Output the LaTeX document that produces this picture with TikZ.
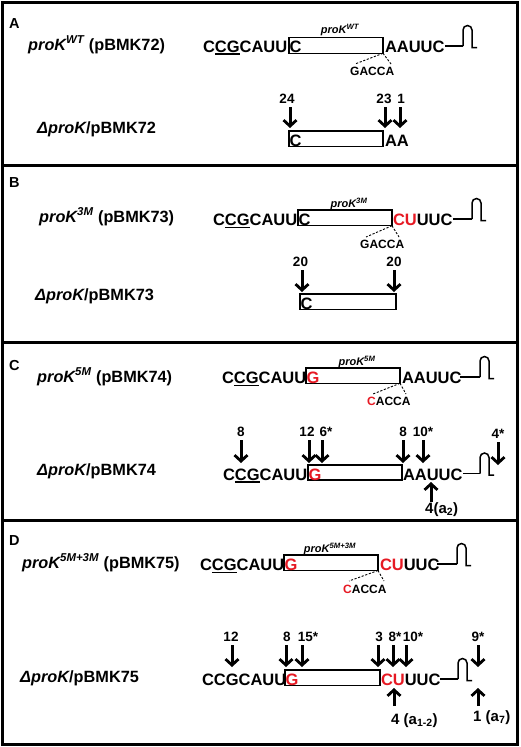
\documentclass[tikz,border=0pt]{standalone}
\usepackage{fontspec}
\setmainfont{Liberation Sans}
\usetikzlibrary{arrows.meta}
\definecolor{mred}{RGB}{230,25,35}
\newcommand\uln[1]{\setbox0\hbox{#1}\rlap{\rule[-2.6pt]{\wd0}{1.2pt}}\box0}
\newcommand\rd[1]{\textcolor{mred}{#1}}
% down arrow: name, arrow x, y start, y tip, label x, label
\newcommand\darr[6]{%
  \coordinate (#1s) at (#2,#3); \coordinate (#1e) at (#2,#4);
  \node[num, anchor=base] (#1n) at (#5,#3-4) {#6};
  \draw[arr] (#1s) -- (#1e);}
% up arrow: name, x, y start (bottom), y tip, label x (west), label baseline, label
\newcommand\uarr[7]{%
  \coordinate (#1s) at (#2,#3); \coordinate (#1e) at (#2,#4);
  \node[albl, anchor=base west] (#1n) at (#5,#6) {#7};
  \draw[arr] (#1s) -- (#1e);}
\begin{document}
\begin{tikzpicture}[x=1pt,y=-1pt,
  seq/.style={font=\fontsize{16.5}{16.5}\selectfont\bfseries, inner sep=0pt, outer sep=0pt},
  lab/.style={font=\fontsize{16.3}{16.3}\selectfont\bfseries, inner sep=0pt},
  plet/.style={font=\fontsize{14.5}{14.5}\selectfont\bfseries, inner sep=0pt},
  num/.style={font=\fontsize{13.5}{13.5}\selectfont\bfseries, inner sep=0pt},
  albl/.style={font=\fontsize{15}{15}\selectfont\bfseries, inner sep=0pt},
  sm/.style={font=\fontsize{11}{11}\selectfont\bfseries\itshape, inner sep=0pt},
  gac/.style={font=\fontsize{12}{12}\selectfont\bfseries, inner sep=0pt},
  boxn/.style={draw, line width=1.5pt, inner sep=0pt, outer sep=0pt, anchor=north west},
  frame/.style={line width=3pt},
  tl/.style={line width=1.5pt},
  dsh/.style={line width=0.9pt, dash pattern=on 2.2pt off 1.6pt},
  arr/.style={line width=3pt, -{Straight Barb[length=6pt,width=13pt,line width=2.8pt]}},
  term/.pic={\draw[tl] (0,0) -- (0,-16) arc[start angle=180,end angle=0,radius=4.5pt] -- (9,1.5) -- (14,1.5);}
]
\useasboundingbox (0,0) rectangle (520,747);
% frame and dividers
\draw[frame] (2.5,2) rectangle (517.5,744.5);
\coordinate (d1l) at (2.5,165); \coordinate (d1r) at (517.5,165);
\coordinate (d2l) at (2.5,342); \coordinate (d2r) at (517.5,342);
\coordinate (d3l) at (2.5,520); \coordinate (d3r) at (517.5,520);
\draw[frame] (d1l) -- (d1r);
\draw[frame] (d2l) -- (d2r);
\draw[frame] (d3l) -- (d3r);
% panel letters
\node[plet, anchor=base west] (pA) at (9,28) {A};
\node[plet, anchor=base west] (pB) at (9,187) {B};
\node[plet, anchor=base west] (pC) at (9,370) {C};
\node[plet, anchor=base west] (pD) at (9,545) {D};

% ================= Panel A =================
\node[lab, anchor=base west] (a1lab) at (28,50) {\itshape proK\textsuperscript{WT}\upshape\ (pBMK72)};
\node[sm, anchor=base] (a1sm) at (340,33) {proK\textsuperscript{WT}};
\node[seq, anchor=base west] (a1s) at (203,52) {C\uln{CG}CAUU};
\node[boxn, minimum width=94pt, minimum height=15.6pt] (a1b) at (289,37.7) {};
\node[seq, anchor=base west] (a1c) at (289.5,52) {C};
\node[seq, anchor=base west] (a1t) at (385,52) {AAUUC};
\coordinate (a1l) at (445,46); \coordinate (a1p) at (463,46);
\draw[tl] (a1l) -- (a1p);
\pic at (a1p) {term};
\node[gac, anchor=base west] (a1g) at (350,75) {GACCA};
\coordinate (a1g1) at (355,64); \coordinate (a1g2) at (391,64);
\draw[dsh] (a1b.south east) -- (a1g1);
\draw[dsh] (a1b.south east) -- (a1g2);
% row 2
\node[lab, anchor=base west] (a2lab) at (37,133) {\itshape ΔproK\upshape/pBMK72};
\node[boxn, minimum width=94pt, minimum height=15.5pt] (a2b) at (289,131) {};
\node[seq, anchor=base west] (a2c) at (289.5,146.5) {C};
\node[seq, anchor=base west] (a2t) at (385,146.5) {AA};
\darr{a2x}{290}{107}{128}{287}{24}
\darr{a2y}{385}{107}{128}{384}{23}
\darr{a2z}{400}{107}{128}{401}{1}

% ================= Panel B =================
\node[lab, anchor=base west] (b1lab) at (39,222) {\itshape proK\textsuperscript{3M}\upshape\ (pBMK73)};
\node[sm, anchor=base] (b1sm) at (349,207) {proK\textsuperscript{3M}};
\node[seq, anchor=base west] (b1s) at (213,225.7) {C\uln{CG}CAUU};
\node[boxn, minimum width=94pt, minimum height=15.7pt] (b1b) at (298,210) {};
\node[seq, anchor=base west] (b1c) at (298.5,225.7) {C};
\node[seq, anchor=base west] (b1t) at (393,225.7) {\rd{CU}UUC};
\coordinate (b1l) at (453,219); \coordinate (b1p) at (472,219);
\draw[tl] (b1l) -- (b1p);
\pic at (b1p) {term};
\node[gac, anchor=base west] (b1g) at (360,248) {GACCA};
\coordinate (b1g1) at (366,237); \coordinate (b1g2) at (399,237);
\draw[dsh] (b1b.south east) -- (b1g1);
\draw[dsh] (b1b.south east) -- (b1g2);
% row 2
\node[lab, anchor=base west] (b2lab) at (35,300) {\itshape ΔproK\upshape/pBMK73};
\node[boxn, minimum width=96pt, minimum height=15.3pt] (b2b) at (300,294) {};
\node[seq, anchor=base west] (b2c) at (300.5,309) {C};
\darr{b2x}{302}{270}{292}{300.5}{20}
\darr{b2y}{394}{270}{292}{394}{20}

% ================= Panel C =================
\node[lab, anchor=base west] (c1lab) at (37,382) {\itshape proK\textsuperscript{5M}\upshape\ (pBMK74)};
\node[sm, anchor=base] (c1sm) at (357,365) {proK\textsuperscript{5M}};
\node[seq, anchor=base west] (c1s) at (222,383.3) {C\uln{CG}CAUU};
\node[boxn, minimum width=94pt, minimum height=15.3pt] (c1b) at (306,368) {};
\node[seq, anchor=base west] (c1c) at (306.5,383.3) {\rd{G}};
\node[seq, anchor=base west] (c1t) at (402,383.3) {AAUUC};
\coordinate (c1l) at (460,377); \coordinate (c1p) at (480,377);
\draw[tl] (c1l) -- (c1p);
\pic at (c1p) {term};
\node[gac, anchor=base west] (c1g) at (367,405) {\rd{C}ACCA};
\coordinate (c1g1) at (373,394); \coordinate (c1g2) at (406,394);
\draw[dsh] (c1b.south east) -- (c1g1);
\draw[dsh] (c1b.south east) -- (c1g2);
% row 2
\node[lab, anchor=base west] (c2lab) at (37,475) {\itshape ΔproK\upshape/pBMK74};
\node[seq, anchor=base west] (c2s) at (223,480) {C\uln{CG}CAUU};
\node[boxn, minimum width=94pt, minimum height=15pt] (c2b) at (308,465) {};
\node[seq, anchor=base west] (c2c) at (308.5,480) {\rd{G}};
\node[seq, anchor=base west] (c2t) at (403,480) {AAUUC};
\coordinate (c2l) at (463,473.5); \coordinate (c2p) at (480,473.5);
\draw[tl] (c2l) -- (c2p);
\pic at (c2p) {term};
\darr{c2a}{241}{440}{463}{241}{8}
\darr{c2b}{309}{440}{463}{307}{12}
\darr{c2c}{322}{440}{463}{326}{6*}
\darr{c2d}{403}{440}{463}{403}{8}
\darr{c2e}{423}{440}{463}{423}{10*}
\darr{c2f}{498}{442}{465}{498}{4*}
\uarr{c2u}{431}{502}{482}{425}{513}{4(a\textsubscript{2})}

% ================= Panel D =================
\node[lab, anchor=base west] (d1lab) at (22,568) {\itshape proK\textsuperscript{5M+3M}\upshape\ (pBMK75)};
\node[sm, anchor=base] (d1sm) at (330,552) {proK\textsuperscript{5M+3M}};
\node[seq, anchor=base west] (d1s) at (200,570.5) {C\uln{CG}CAUU};
\node[boxn, minimum width=94pt, minimum height=15.5pt] (d1b) at (284,555) {};
\node[seq, anchor=base west] (d1c) at (284.5,570.5) {\rd{G}};
\node[seq, anchor=base west] (d1t) at (380,570.5) {\rd{CU}UUC};
\coordinate (d1l) at (437,564); \coordinate (d1p) at (457,564);
\draw[tl] (d1l) -- (d1p);
\pic at (d1p) {term};
\node[gac, anchor=base west] (d1g) at (343,593) {\rd{C}ACCA};
\coordinate (d1g1) at (349,581); \coordinate (d1g2) at (384,581);
\draw[dsh] (d1b.south east) -- (d1g1);
\draw[dsh] (d1b.south east) -- (d1g2);
% row 2
\node[lab, anchor=base west] (d2lab) at (20,682) {\itshape ΔproK\upshape/pBMK75};
\node[seq, anchor=base west] (d2s) at (202,685.7) {CCGCAUU};
\node[boxn, minimum width=95pt, minimum height=15.7pt] (d2b) at (285,670) {};
\node[seq, anchor=base west] (d2c) at (285.5,685.7) {\rd{G}};
\node[seq, anchor=base west] (d2t) at (381,685.7) {\rd{CU}UUC};
\coordinate (d2l) at (440,679); \coordinate (d2p) at (458,679);
\draw[tl] (d2l) -- (d2p);
\pic at (d2p) {term};
\darr{d2a}{232}{645}{667}{231}{12}
\darr{d2b}{286}{645}{667}{287}{8}
\darr{d2c}{302}{645}{667}{308}{15*}
\darr{d2d}{378}{645}{667}{379}{3}
\darr{d2e}{393}{645}{667}{395}{8*}
\darr{d2f}{406}{645}{667}{413}{10*}
\darr{d2g}{478}{645}{667}{478}{9*}
\uarr{d2u}{394}{706}{688}{391}{724}{4 (a\textsubscript{1-2})}
\uarr{d2v}{478}{706}{688}{473}{721}{1 (a\textsubscript{7})}
\end{tikzpicture}
\end{document}
